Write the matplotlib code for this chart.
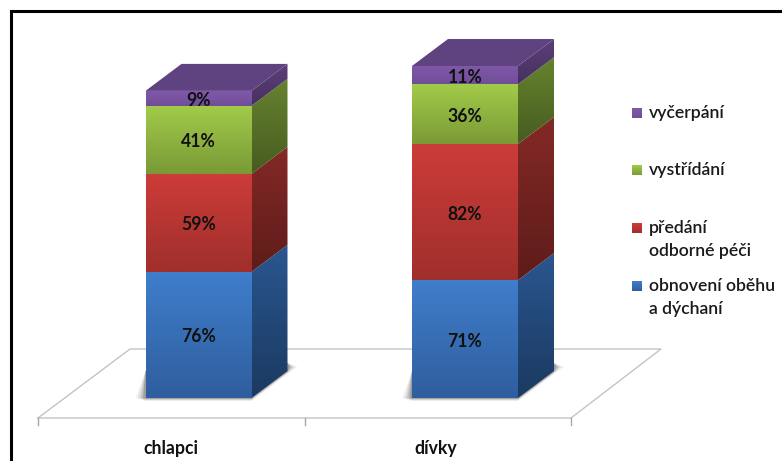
import numpy as np
import matplotlib
matplotlib.use('Agg')
import matplotlib.pyplot as plt
from matplotlib.patches import Polygon
from matplotlib.colors import LinearSegmentedColormap

categories = ['chlapci', 'dívky']
obnoveni = [76, 71]
predani = [59, 82]
vystridani = [41, 36]
vycerpani = [9, 11]
legend_labels = ['vyčerpání', 'vystřídání', 'předání\nodborné péči', 'obnovení oběhu\na dýchaní']

series = [obnoveni, predani, vystridani, vycerpani]
# front top, front bottom, side top, side bottom
shades = [('#3f7ecb', '#2f5e9e', '#2a5690', '#1b3a60'),
          ('#cc3c39', '#a02f2c', '#842926', '#5e1c1a'),
          ('#a2cb4a', '#7a9a36', '#66832f', '#465c20'),
          ('#8058aa', '#704e98', '#5b4079', '#47305f')]
top_color = '#5f4280'

plt.rcParams['font.family'] = ['Lato', 'DejaVu Sans']

W, H = 782, 461
fig = plt.figure(figsize=(W / 100, H / 100), dpi=100)
ax = fig.add_axes([0, 0, 1, 1])

# one category = 266.5 px, 1 % = 1.66 px
sx, sy = 266.5, 1.66
x0_px, y0_px = 198.5, 398
ax.set_xlim(-x0_px / sx, (W - x0_px) / sx)
ax.set_ylim((y0_px - H) / sy, y0_px / sy)
ax.axis('off')

bar_w = 106 / sx
dx, dy = 36 / sx, 27 / sy


def px(x, y):
    return (x - x0_px) / sx, (y0_px - y) / sy


def grad_poly(pts, c1, c2, z):
    pts = np.array(pts)
    cm = LinearSegmentedColormap.from_list('g', [c2, c1])
    g = np.linspace(0, 1, 64).reshape(-1, 1)
    ext = [pts[:, 0].min(), pts[:, 0].max(), pts[:, 1].min(), pts[:, 1].max()]
    im = ax.imshow(g, origin='lower', cmap=cm, extent=ext, aspect='auto', zorder=z, interpolation='bilinear')
    p = Polygon(pts, closed=True, fc='none', ec='none', transform=ax.transData)
    ax.add_patch(p)
    im.set_clip_path(p)


# floor
gray = '#c4c4c4'
a, b, c = px(38, 418), px(571, 418), px(661, 349)
d = px(130, 349)
ax.plot([a[0], b[0], c[0], d[0], a[0]], [a[1], b[1], c[1], d[1], a[1]], color=gray, lw=1, zorder=1)
for t in [38, 304.5, 571]:
    p1, p2 = px(t, 418), px(t, 425)
    ax.plot([p1[0], p2[0]], [p1[1], p2[1]], color='#a8a8a8', lw=1, zorder=1)

for i, cat in enumerate(categories):
    l, r = i - bar_w / 2, i + bar_w / 2
    # shadow on the floor
    for k, al in zip([1.0, 0.75, 0.5, 0.25], [0.06, 0.1, 0.16, 0.25]):
        ox, oy = 10 * k / sx, 3 * k / sy
        sh = [(l - ox, 0), (l, -oy), (r, -oy), (r + dx, dy - oy), (r + dx + ox, dy + 4 / sy),
              (r + dx, dy + 8 / sy), (l, dy)]
        ax.add_patch(Polygon(sh, closed=True, fc='#303030', ec='none', alpha=al, zorder=2))

    bottom = 0
    for j, vals in enumerate(series):
        v = vals[i]
        top = bottom + v
        cs = shades[j]
        grad_poly([(l, bottom), (r, bottom), (r, top), (l, top)], cs[0], cs[1], 3)
        grad_poly([(r, bottom), (r + dx, bottom + dy), (r + dx, top + dy), (r, top)], cs[2], cs[3], 3)
        ax.text(i, bottom + v / 2 - 1.2, '%d%%' % v, ha='center', va='center',
                fontsize=12.7, fontweight='bold', color='#111111', zorder=6)
        bottom = top
    ax.add_patch(Polygon([(l, bottom), (r, bottom), (r + dx, bottom + dy), (l + dx, bottom + dy)],
                         closed=True, fc=top_color, ec='none', zorder=3))

# category labels
for i, cat in enumerate(categories):
    tx = px([170.5, 436][i], 448)
    ax.text(tx[0], tx[1], cat, ha='center', va='center', fontsize=12.7, fontweight='bold', color='#111111')

# legend
leg_y = [113, 170, 228, 286]
for lab, y, j in zip(legend_labels, leg_y, [3, 2, 1, 0]):
    cs = shades[j]
    x1, y1 = px(632, y + 5)
    x2, y2 = px(642, y - 5)
    grad_poly([(x1, y1), (x2, y1), (x2, y2), (x1, y2)], cs[0], cs[1], 3)
    for n, line in enumerate(lab.split('\n')):
        tx = px(649, y + 23 * n)
        ax.text(tx[0], tx[1], line, ha='left', va='center', fontsize=12.7,
                fontweight='semibold', color='#1a1a1a')

# black frame, top and left only
p0, p1, p2 = px(11, H), px(11, 11.5), px(W, 11.5)
ax.plot([p0[0], p1[0], p2[0]], [p0[1], p1[1], p2[1]], color='black', lw=2.2, solid_capstyle='butt',
        solid_joinstyle='miter', zorder=8)

fig.savefig('out.png', dpi=100)
